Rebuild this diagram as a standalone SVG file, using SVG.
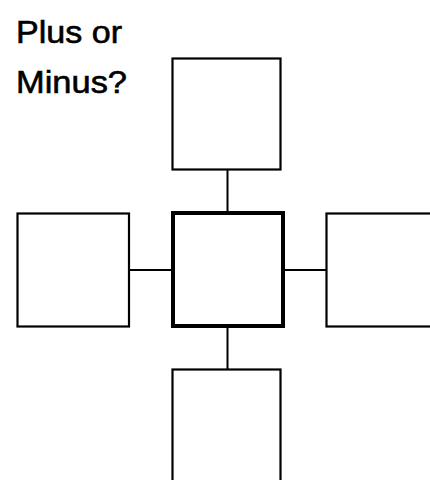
<svg xmlns="http://www.w3.org/2000/svg" width="430" height="480" viewBox="0 0 430 480">
<style>
.box{fill:#fff;stroke:#000;stroke-width:2.2}
.center{fill:#fff;stroke:#000;stroke-width:4}
.conn{stroke:#000;stroke-width:2;fill:none}
.title{font-family:"Comic Sans MS","Liberation Sans","DejaVu Sans",sans-serif;font-size:31px;fill:#000;stroke:#000;stroke-width:0.6}
</style>
<rect width="430" height="480" fill="#fff"/>
<g id="title">
<text class="title" x="16" y="43" textLength="106" lengthAdjust="spacingAndGlyphs">Plus or</text>
<text class="title" x="16" y="93" textLength="111" lengthAdjust="spacingAndGlyphs">Minus?</text>
</g>
<g id="connectors">
<line class="conn" x1="227.5" y1="169" x2="227.5" y2="213"/>
<line class="conn" x1="227.5" y1="326" x2="227.5" y2="370"/>
<line class="conn" x1="129" y1="270" x2="173" y2="270"/>
<line class="conn" x1="283" y1="270" x2="327" y2="270"/>
</g>
<g id="top"><rect class="box" x="172.5" y="58.5" width="108" height="111"/></g>
<g id="left"><rect class="box" x="17.5" y="213.5" width="111.5" height="113"/></g>
<g id="right"><rect class="box" x="326.5" y="213.5" width="120" height="113"/></g>
<g id="bottom"><rect class="box" x="172.5" y="369.5" width="108" height="120"/></g>
<g id="center"><rect class="center" x="173" y="213" width="110" height="113"/></g>
</svg>
